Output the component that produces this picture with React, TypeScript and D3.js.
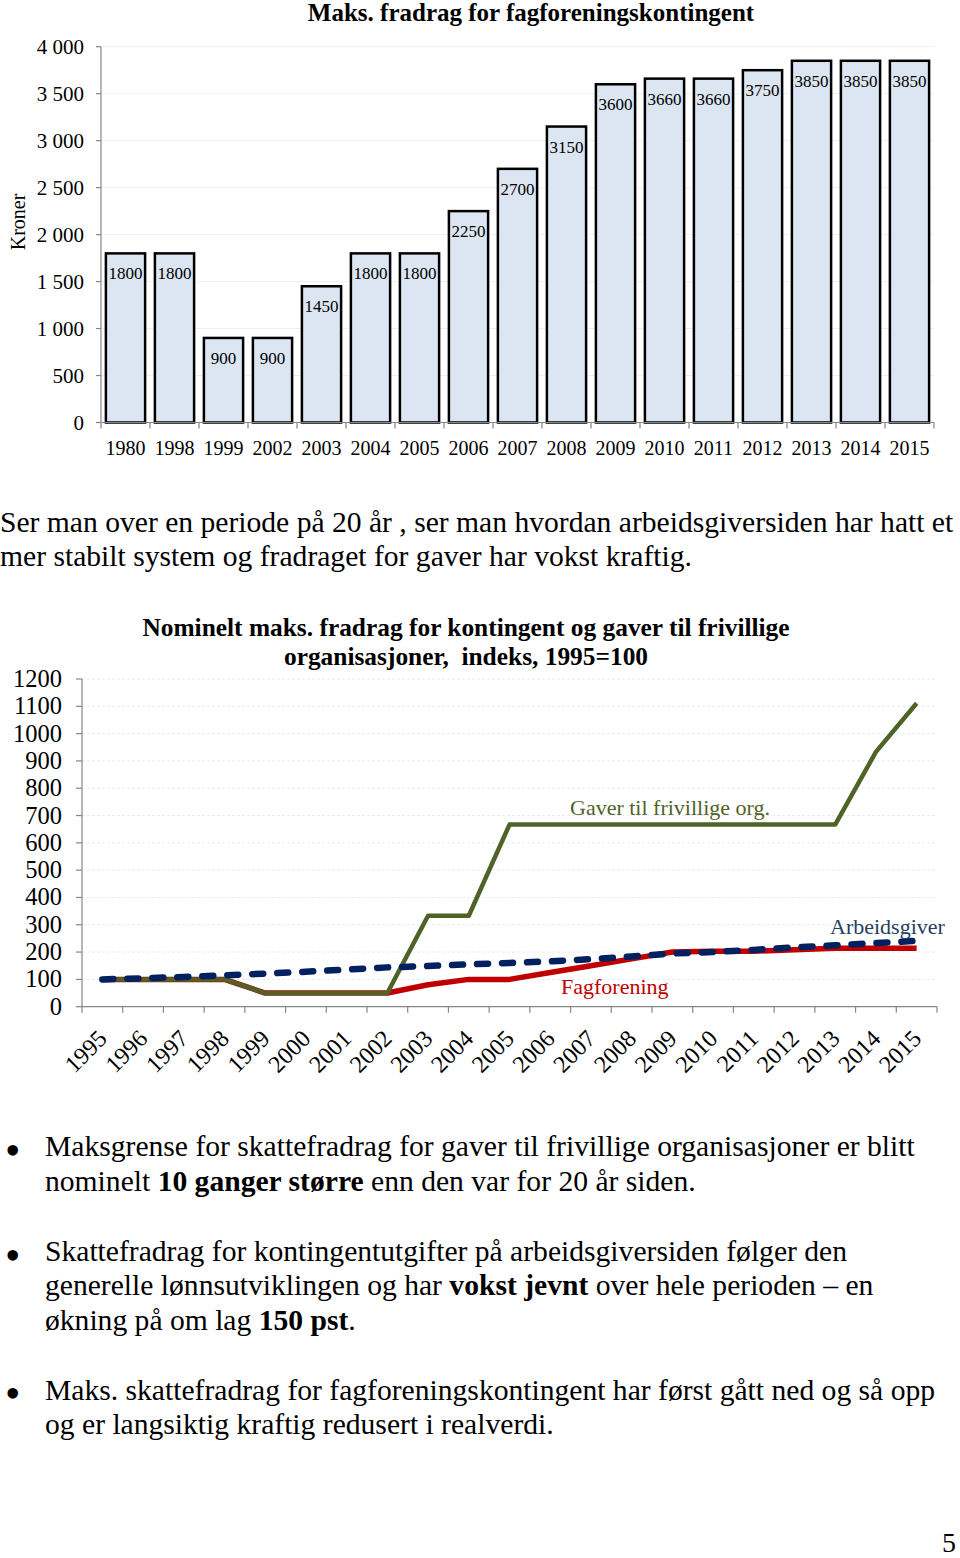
import React from 'react';
import * as d3 from 'd3';

const barYears = ['1980','1998','1999','2002','2003','2004','2005','2006','2007','2008','2009','2010','2011','2012','2013','2014','2015'];
const barValues = [1800,1800,900,900,1450,1800,1800,2250,2700,3150,3600,3660,3660,3750,3850,3850,3850];
const barTicks = [0,500,1000,1500,2000,2500,3000,3500,4000];

const lineYears = ['1995','1996','1997','1998','1999','2000','2001','2002','2003','2004','2005','2006','2007','2008','2009','2010','2011','2012','2013','2014','2015'];
const gaver = [100,100,100,100,50,50,50,50,333,333,667,667,667,667,667,667,667,667,667,933,1111];
const fagforening = [100,100,100,100,50,50,50,50,80.6,100,100,125,150,175,200,203.3,203.3,208.3,213.9,213.9,213.9];
const arbeidsgiver = [100,104,109,115,121,128,136,144,149,155,160,166,174,184,195,200,208,217,225,233,241];
const lineTicks = [0,100,200,300,400,500,600,700,800,900,1000,1100,1200];

const FONT = '"Liberation Serif", "Times New Roman", serif';
const BODY = 29.6;
const fmt = d3.formatLocale({ decimal: ',', thousands: ' ', grouping: [3], currency: ['', ''] }).format(',');

export default function App() {
  // Chart 1
  const x1 = d3.scaleBand<string>().domain(barYears).range([101, 934]).paddingInner(0.2).paddingOuter(0.1);
  const y1 = d3.scaleLinear().domain([0, 4000]).range([422.5, 46.7]);
  const step1 = x1.step();
  const b1 = x1.range()[0];

  // Chart 2
  const x2 = d3.scalePoint<string>().domain(lineYears).range([82, 937]).padding(0.5);
  const y2 = d3.scaleLinear().domain([0, 1200]).range([1006.7, 679]);
  const step2 = x2.step();
  const lineGen = d3.line<number>().x((_, i) => x2(lineYears[i]) as number).y(d => y2(d));

  return (
    <svg width={960} height={1558} style={{ position: 'absolute', left: 0, top: 0, background: '#fff' }} fontFamily={FONT}>
      <rect x={0} y={0} width={960} height={1558} fill="#fff" />
      {/* ---------- Chart 1 ---------- */}
      <text x={531} y={20.5} textAnchor="middle" fontSize={25} fontWeight="bold">Maks. fradrag for fagforeningskontingent</text>
      {barTicks.map(t => (
        <g key={'g1' + t}>
          {t > 0 && <line x1={101} x2={934} y1={y1(t)} y2={y1(t)} stroke="#efefef" strokeWidth={1} />}
          <line x1={96} x2={101} y1={y1(t)} y2={y1(t)} stroke="#868686" strokeWidth={1.2} />
          <text x={84} y={y1(t) + 7} textAnchor="end" fontSize={21}>{fmt(t)}</text>
        </g>
      ))}
      <line x1={101} x2={101} y1={y1(4000)} y2={y1(0)} stroke="#868686" strokeWidth={1.2} />
      <text transform={`translate(25,222) rotate(-90)`} textAnchor="middle" fontSize={20}>Kroner</text>
      {barYears.map((yr, i) => (
        <g key={'b' + yr}>
          <rect x={x1(yr)} y={y1(barValues[i])} width={x1.bandwidth()} height={y1(0) - y1(barValues[i])} fill="#dce6f2" stroke="#000" strokeWidth={2.5} />
          <text x={(x1(yr) as number) + x1.bandwidth() / 2} y={y1(barValues[i]) + 26} textAnchor="middle" fontSize={17}>{barValues[i]}</text>
          <text x={(x1(yr) as number) + x1.bandwidth() / 2} y={455} textAnchor="middle" fontSize={20}>{yr}</text>
        </g>
      ))}
      <line x1={101} x2={934} y1={y1(0)} y2={y1(0)} stroke="#868686" strokeWidth={1.2} />
      {d3.range(barYears.length + 1).map(i => (
        <line key={'t1' + i} x1={b1 + i * step1} x2={b1 + i * step1} y1={y1(0)} y2={y1(0) + 6} stroke="#868686" strokeWidth={1.2} />
      ))}

      {/* ---------- Paragraph ---------- */}
      <text x={0} y={532} fontSize={BODY}>Ser man over en periode på 20 år , ser man hvordan arbeidsgiversiden har hatt et</text>
      <text x={0} y={566} fontSize={BODY}>mer stabilt system og fradraget for gaver har vokst kraftig.</text>

      {/* ---------- Chart 2 ---------- */}
      <text x={466} y={636} textAnchor="middle" fontSize={25.4} fontWeight="bold">Nominelt maks. fradrag for kontingent og gaver til frivillige</text>
      <text x={466} y={665} textAnchor="middle" fontSize={25.4} fontWeight="bold" style={{ whiteSpace: 'pre' }}>organisasjoner,  indeks, 1995=100</text>
      {lineTicks.map(t => (
        <g key={'g2' + t}>
          {t > 0 && <line x1={82} x2={937} y1={y2(t)} y2={y2(t)} stroke="#ececec" strokeWidth={1} strokeDasharray="3,2" />}
          <line x1={76} x2={82} y1={y2(t)} y2={y2(t)} stroke="#868686" strokeWidth={1.2} />
          <text x={62} y={y2(t) + 8} textAnchor="end" fontSize={24.5}>{t}</text>
        </g>
      ))}
      <line x1={82} x2={82} y1={y2(1200)} y2={y2(0)} stroke="#868686" strokeWidth={1.2} />
      <line x1={82} x2={937} y1={y2(0)} y2={y2(0)} stroke="#868686" strokeWidth={1.2} />
      {d3.range(lineYears.length + 1).map(i => (
        <line key={'t2' + i} x1={82 + i * step2} x2={82 + i * step2} y1={y2(0)} y2={y2(0) + 6} stroke="#868686" strokeWidth={1.2} />
      ))}
      {lineYears.map(yr => (
        <text key={'xl' + yr} transform={`translate(${(x2(yr) as number) + 6},1040) rotate(-45)`} textAnchor="end" fontSize={24}>{yr}</text>
      ))}
      <path d={lineGen(fagforening) as string} fill="none" stroke="#c00000" strokeWidth={5.5} strokeLinejoin="round" />
      <path d={lineGen(gaver) as string} fill="none" stroke="#4f6228" strokeWidth={4.5} strokeLinejoin="round" />
      <path d={lineGen(arbeidsgiver) as string} fill="none" stroke="#002060" strokeWidth={6.5} strokeDasharray="11,14" strokeLinecap="round" />
      <text x={570} y={815} fontSize={22} fill="#4f6228">Gaver til frivillige org.</text>
      <text x={830} y={934} fontSize={22} fill="#254061">Arbeidsgiver</text>
      <text x={561} y={994} fontSize={22} fill="#c00000">Fagforening</text>

      {/* ---------- Bullets ---------- */}
      {[1145, 1250, 1388].map(y => (
        <text key={'bl' + y} x={5} y={y + 20} fontSize={44}>•</text>
      ))}
      <text x={45} y={1156} fontSize={BODY}>Maksgrense for skattefradrag for gaver til frivillige organisasjoner er blitt</text>
      <text x={45} y={1191} fontSize={BODY}>nominelt <tspan fontWeight="bold">10 ganger større</tspan> enn den var for 20 år siden.</text>
      <text x={45} y={1261} fontSize={BODY}>Skattefradrag for kontingentutgifter på arbeidsgiversiden følger den</text>
      <text x={45} y={1295} fontSize={BODY}>generelle lønnsutviklingen og har <tspan fontWeight="bold">vokst jevnt</tspan> over hele perioden – en</text>
      <text x={45} y={1330} fontSize={BODY}>økning på om lag <tspan fontWeight="bold">150 pst</tspan>.</text>
      <text x={45} y={1400} fontSize={BODY}>Maks. skattefradrag for fagforeningskontingent har først gått ned og så opp</text>
      <text x={45} y={1434} fontSize={BODY}>og er langsiktig kraftig redusert i realverdi.</text>

      <text x={956} y={1552} textAnchor="end" fontSize={28}>5</text>
    </svg>
  );
}
